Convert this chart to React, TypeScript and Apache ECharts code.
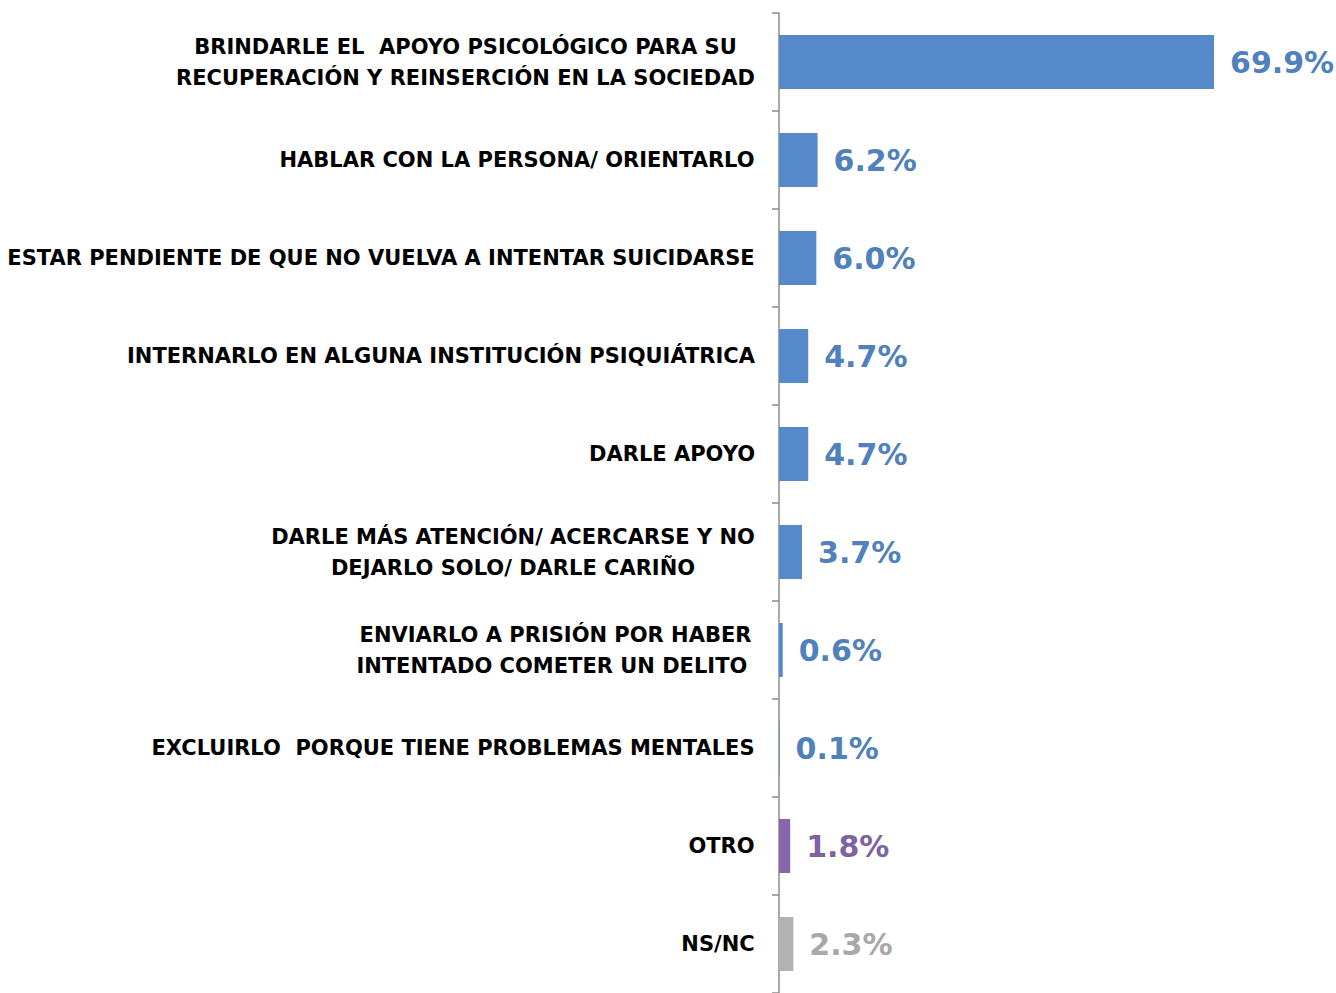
import React, { useEffect, useRef } from "react";
import * as echarts from "echarts";

const categories: string[] = [
  "BRINDARLE EL  APOYO PSICOLÓGICO PARA SU\nRECUPERACIÓN Y REINSERCIÓN EN LA SOCIEDAD",
  "HABLAR CON LA PERSONA/ ORIENTARLO",
  "ESTAR PENDIENTE DE QUE NO VUELVA A INTENTAR SUICIDARSE",
  "INTERNARLO EN ALGUNA INSTITUCIÓN PSIQUIÁTRICA",
  "DARLE APOYO",
  "DARLE MÁS ATENCIÓN/ ACERCARSE Y NO\nDEJARLO SOLO/ DARLE CARIÑO",
  "ENVIARLO A PRISIÓN POR HABER\nINTENTADO COMETER UN DELITO ",
  "EXCLUIRLO  PORQUE TIENE PROBLEMAS MENTALES",
  "OTRO",
  "NS/NC",
];
const values: number[] = [69.9, 6.2, 6.0, 4.7, 4.7, 3.7, 0.6, 0.1, 1.8, 2.3];
const groups: string[] = ["main", "main", "main", "main", "main", "main", "main", "main", "other", "nsnc"];

const barColor: Record<string, string> = { main: "#5589C9", other: "#8866AE", nsnc: "#B2B2B2" };
const labelColor: Record<string, string> = { main: "#4F81BD", other: "#7F62A1", nsnc: "#A8A8A8" };

const FONT = "DejaVu Sans";
const LABEL_SIZE = 21;

export default function App() {
  const ref = useRef<HTMLDivElement>(null);
  useEffect(() => {
    if (!ref.current) return;
    const chart = echarts.init(ref.current, undefined, { renderer: "svg" });
    const canvas = document.createElement("canvas");
    const ctx = canvas.getContext("2d")!;
    ctx.font = `bold ${LABEL_SIZE}px "${FONT}"`;
    const rich: Record<string, any> = {};
    categories.forEach((c, i) => {
      const w = Math.max(...c.split("\n").map((l) => ctx.measureText(l).width));
      rich["c" + i] = {
        width: Math.ceil(w),
        align: "center",
        fontSize: LABEL_SIZE,
        fontWeight: "bold",
        fontFamily: FONT,
        color: "#000",
        lineHeight: 31,
      };
    });
    chart.setOption({
      animation: false,
      grid: { left: 779, top: 13, bottom: 0, width: 560, containLabel: false },
      xAxis: { type: "value", min: 0, max: 89.5, show: false },
      yAxis: {
        type: "category",
        inverse: true,
        data: categories,
        axisLine: { show: true, lineStyle: { color: "#8C8C8C", width: 1.5 } },
        axisTick: { show: true, length: 7, lineStyle: { color: "#8C8C8C", width: 1.5 } },
        axisLabel: {
          margin: 24,
          align: "right",
          fontSize: LABEL_SIZE,
          fontWeight: "bold",
          fontFamily: FONT,
          color: "#000",
          lineHeight: 31,
          rich,
          formatter: (v: string, i: number) =>
            v
              .split("\n")
              .map((l) => `{c${i}|${l}}`)
              .join("\n"),
        },
      },
      series: [
        {
          type: "bar",
          barWidth: 54,
          data: values.map((v, i) => ({
            value: v,
            itemStyle: { color: barColor[groups[i]] },
            label: { color: labelColor[groups[i]] },
          })),
          label: {
            show: true,
            position: "right",
            distance: 16,
            fontSize: 30,
            fontWeight: "bold",
            fontFamily: FONT,
            formatter: (p: any) => p.value.toFixed(1) + "%",
          },
        },
      ],
    });
    return () => chart.dispose();
  }, []);
  return (
    <div
      ref={ref}
      style={{ position: "fixed", left: 0, top: 0, width: 1336, height: 993, background: "#fff" }}
    />
  );
}
